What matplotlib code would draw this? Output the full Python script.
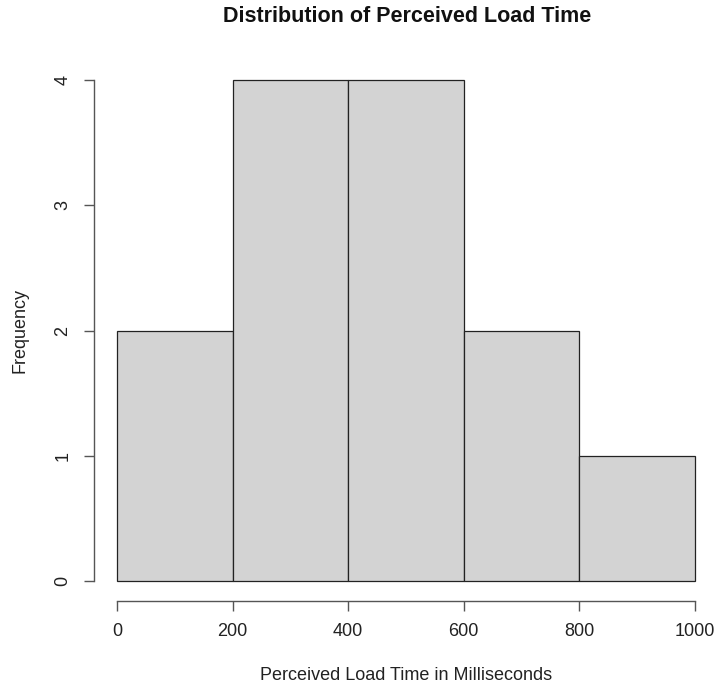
import numpy as np
import matplotlib
matplotlib.use("Agg")
import matplotlib.pyplot as plt

# === data ===
bin_edges = [0, 200, 400, 600, 800, 1000]
counts = [2, 4, 4, 2, 1]
x_ticks = [0, 200, 400, 600, 800, 1000]
y_ticks = [0, 1, 2, 3, 4]

plt.rcParams['font.family'] = ['Liberation Sans', 'DejaVu Sans']

fig = plt.figure(figsize=(7.16, 6.84), dpi=100)
ax = fig.add_axes([93.9 / 716, 83 / 684, 624.2 / 716, 541 / 684])

lefts = np.array(bin_edges[:-1])
widths = np.diff(bin_edges)
ax.bar(lefts, counts, width=widths, align='edge', color='#d3d3d3',
       edgecolor='#222222', linewidth=0.9)

ax.set_xlim(-40, 1040)
ax.set_ylim(-0.16, 4.16)

for s in ['top', 'right']:
    ax.spines[s].set_visible(False)
ax.spines['left'].set_bounds(0, 4)
ax.spines['bottom'].set_bounds(0, 1000)
for s in ['left', 'bottom']:
    ax.spines[s].set_color('#555555')
    ax.spines[s].set_linewidth(1.0)

ax.set_xticks(x_ticks)
ax.set_yticks(y_ticks)
ax.tick_params(direction='out', length=7.2, width=1.0, color='#555555',
               labelsize=13, labelcolor='#222222')
ax.tick_params(axis='x', pad=9)
ax.tick_params(axis='y', pad=9)
plt.setp(ax.get_yticklabels(), rotation=90, va='center')

ax.set_xlabel("Perceived Load Time in Milliseconds", fontsize=13,
              color='#222222', va='center')
ax.xaxis.set_label_coords(0.5, (601 - 675) / 541)
ax.set_ylabel("Frequency", fontsize=13, color='#222222', va='center')
ax.yaxis.set_label_coords((20 - 93.9) / 624.2, 0.5)
fig.text(407 / 716, 1 - 17 / 684, "Distribution of Perceived Load Time",
         ha='center', va='center', fontsize=15.5, fontweight='bold',
         color='#111111')

fig.savefig("out.png", dpi=100)
